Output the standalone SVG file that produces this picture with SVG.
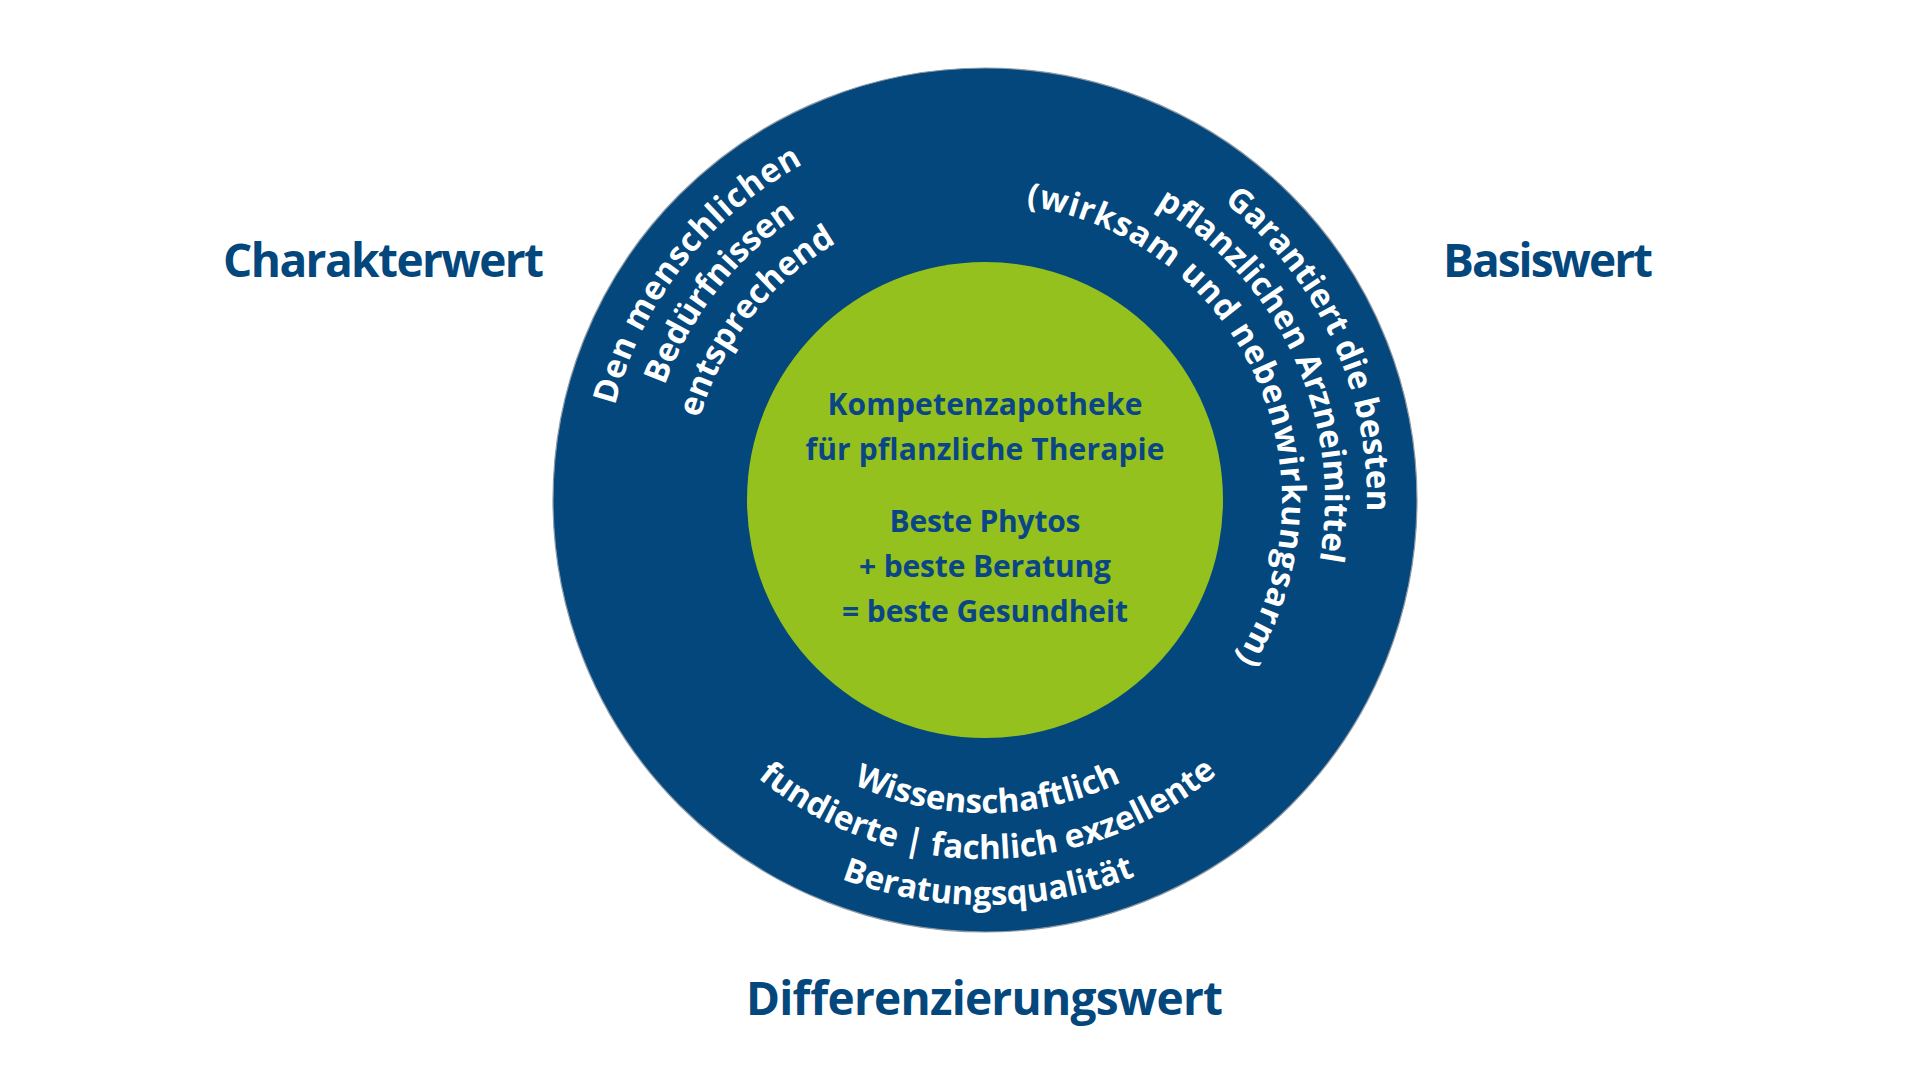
<svg xmlns="http://www.w3.org/2000/svg" width="1920" height="1080" viewBox="0 0 1920 1080">
<style>
.bg{fill:#ffffff}
.ring{fill:#03477d;stroke:#8f99a4;stroke-width:1.2}
.core{fill:#95c11f}
.side{font-family:"Open Sans","Noto Sans","Liberation Sans",sans-serif;font-weight:700;font-size:46px;fill:#03477d}
.mid{font-family:"Open Sans","Noto Sans","Liberation Sans",sans-serif;font-weight:700;font-size:30px;fill:#0a4685;text-anchor:middle}
.arc{font-family:"Open Sans","Noto Sans","Liberation Sans",sans-serif;font-weight:700;font-size:33px;fill:#ffffff}
</style>
<defs>
<path id="pL1" d="M701.1,755.6 A382,382 0 0 1 1164.3,162.7"/>
<path id="pL2" d="M732.3,727.5 A340,340 0 0 1 1144.6,199.8"/>
<path id="pL3" d="M764.3,698.7 A297,297 0 0 1 1124.4,237.8"/>
<path id="pR1" d="M887.4,130.7 A382,382 0 0 1 1203.0,813.7"/>
<path id="pR2" d="M898.2,171.3 A340,340 0 0 1 1179.0,779.2"/>
<path id="pR3" d="M909.1,212.9 A297,297 0 0 1 1154.5,743.9"/>
<path id="pB1" d="M677.2,557.0 A313,313 0 0 0 1293.7,551.6"/>
<path id="pB2" d="M632.0,565.4 A359,359 0 0 0 1339.1,559.2"/>
<path id="pB3" d="M586.8,573.8 A405,405 0 0 0 1384.5,566.8"/>
</defs>
<rect class="bg" x="0" y="0" width="1920" height="1080"/>

<g id="node-outer-ring">
<circle class="ring" cx="985" cy="500" r="432"/>
</g>

<g id="node-core">
<circle class="core" cx="985" cy="500" r="238"/>
<text class="mid" x="985" y="415" textLength="315" lengthAdjust="spacing">Kompetenzapotheke</text>
<text class="mid" x="985" y="460" textLength="359" lengthAdjust="spacing">für pflanzliche Therapie</text>
<text class="mid" x="985" y="532" textLength="191" lengthAdjust="spacing">Beste Phytos</text>
<text class="mid" x="985" y="577" textLength="252" lengthAdjust="spacing">+ beste Beratung</text>
<text class="mid" x="985" y="622" textLength="286" lengthAdjust="spacing">= beste Gesundheit</text>
</g>

<g id="node-charakter">
<text class="arc" letter-spacing="0.8"><textPath href="#pL1" startOffset="50%" text-anchor="middle">Den menschlichen</textPath></text>
<text class="arc"><textPath href="#pL2" startOffset="50%" text-anchor="middle">Bedürfnissen</textPath></text>
<text class="arc"><textPath href="#pL3" startOffset="50%" text-anchor="middle">entsprechend</textPath></text>
<text class="side" x="223" y="277" textLength="321" lengthAdjust="spacing">Charakterwert</text>
</g>

<g id="node-basis">
<text class="arc"><textPath href="#pR1" startOffset="50%" text-anchor="middle">Garantiert die besten</textPath></text>
<text class="arc"><textPath href="#pR2" startOffset="50%" text-anchor="middle">pflanzlichen Arzneimittel</textPath></text>
<text class="arc" letter-spacing="0.8"><textPath href="#pR3" startOffset="50%" text-anchor="middle">(wirksam und nebenwirkungsarm)</textPath></text>
<text class="side" x="1443" y="277" textLength="210" lengthAdjust="spacing">Basiswert</text>
</g>

<g id="node-differenzierung">
<text class="arc"><textPath href="#pB1" startOffset="50%" text-anchor="middle">Wissenschaftlich</textPath></text>
<text class="arc"><textPath href="#pB2" startOffset="50%" text-anchor="middle">fundierte | fachlich exzellente</textPath></text>
<text class="arc"><textPath href="#pB3" startOffset="50%" text-anchor="middle">Beratungsqualität</textPath></text>
<text class="side" x="746" y="1015" textLength="477" lengthAdjust="spacing">Differenzierungswert</text>
</g>
</svg>
